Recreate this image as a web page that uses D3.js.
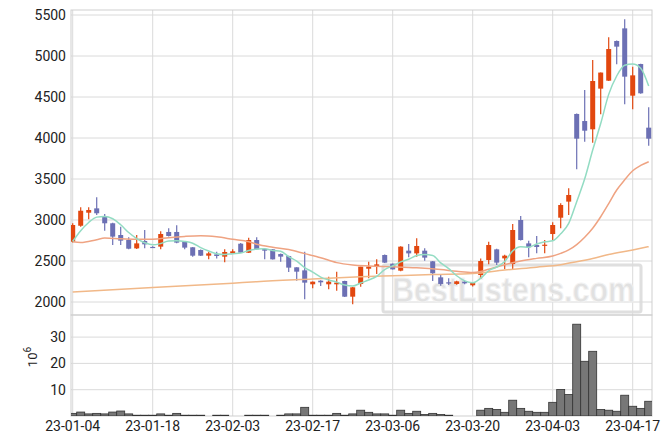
<!DOCTYPE html>
<html><head><meta charset="utf-8">
<script src="https://cdn.jsdelivr.net/npm/d3@7"></script>
<style>body{margin:0;background:#fff;} svg{display:block;font-family:Roboto,"Noto Sans",sans-serif;}</style>
</head><body><svg id="c" width="671" height="445"></svg>
<script>
const dates = ["01-04","01-05","01-06","01-09","01-10","01-11","01-12","01-13","01-16","01-17","01-18","01-19","01-20","01-25","01-26","01-27","01-30","01-31",
"02-01","02-02","02-03","02-06","02-07","02-08","02-09","02-10","02-13","02-14","02-15","02-16","02-17","02-20","02-21","02-22","02-23","02-24","02-27","02-28",
"03-02","03-03","03-06","03-07","03-08","03-09","03-10","03-13","03-14","03-15","03-16","03-17","03-20","03-21","03-22","03-23","03-24","03-27","03-28","03-29","03-30","03-31",
"04-03","04-04","04-05","04-06","04-07","04-10","04-11","04-12","04-13","04-14","04-17","04-18","04-19"].map(d => "23-" + d);
const openP  = [2735,2930,3089,3142,3049,2960,2817,2756,2654,2744,2672,2675,2854,2854,2732,2667,2634,2565,2581,2553,2593,2711,2601,2756,2646,2642,2585,2561,2423,2386,2216,2260,2216,2216,2256,2065,2220,2406,2427,2573,2467,2382,2626,2593,2626,2496,2301,2240,2220,2248,2204,2329,2512,2642,2532,2463,3000,2715,2695,2691,2829,3028,3224,4293,4207,4106,4602,4699,5183,5337,4516,4902,4126];
const highP  = [2960,3155,3155,3276,3073,2965,2918,2789,2817,2878,2680,2862,2898,2935,2740,2670,2640,2613,2613,2643,2643,2720,2785,2789,2650,2645,2590,2565,2425,2613,2250,2265,2309,2370,2260,2182,2431,2492,2520,2578,2470,2680,2707,2777,2654,2500,2341,2289,2260,2260,2245,2532,2736,2650,2575,2951,3049,2748,2805,2756,2972,3203,3386,4300,4585,4951,4800,5228,5190,5447,4870,4905,4375];
const lowP   = [2725,2918,3008,3061,2870,2695,2695,2643,2645,2654,2665,2643,2800,2715,2643,2553,2560,2520,2532,2484,2590,2598,2598,2640,2520,2518,2492,2366,2260,2033,2167,2195,2154,2138,2060,1972,2187,2289,2341,2475,2395,2375,2545,2553,2504,2256,2199,2207,2210,2215,2190,2280,2459,2451,2398,2402,2750,2545,2593,2593,2756,2898,3061,3618,3955,3943,4289,4695,4898,4411,4350,4540,3906];
const closeP = [2939,3113,3122,3082,2960,2797,2748,2650,2715,2703,2670,2829,2805,2724,2663,2565,2565,2593,2561,2610,2618,2601,2756,2642,2626,2520,2553,2419,2370,2236,2248,2240,2248,2236,2065,2179,2431,2431,2459,2480,2398,2675,2593,2683,2541,2350,2220,2236,2252,2228,2232,2500,2695,2480,2565,2878,2756,2667,2671,2699,2939,3183,3305,3992,4089,4695,4798,5085,5114,4748,4764,4545,3992];
const volume = [1.0,1.5,0.8,1.0,0.8,1.5,1.9,0.8,0.3,0.3,0.3,0.8,0.3,1.0,0.3,0.3,0.3,0.0,0.3,0.3,0.0,0.0,0.3,0.3,0.3,0.0,0.3,0.8,0.8,3.3,0.3,0.3,0.3,1.0,0.3,0.8,2.2,1.4,0.8,0.8,0.3,2.2,1.0,1.8,0.6,1.0,0.6,0.3,0.0,0.0,0.0,2.2,2.9,2.5,1.4,6.0,2.9,1.8,1.4,1.4,5.2,10.1,8.2,34.9,20.8,24.6,2.5,2.2,1.8,7.9,3.7,2.9,5.6];
const ma5 = [2740,2870,2970,3035,3043,3015,2942,2847,2774,2723,2697,2713,2744,2746,2738,2717,2664,2622,2589,2579,2589,2597,2629,2645,2649,2629,2619,2552,2498,2420,2365,2303,2268,2242,2207,2194,2232,2268,2313,2396,2440,2489,2521,2566,2578,2568,2477,2406,2320,2257,2234,2290,2381,2427,2494,2624,2675,2669,2707,2734,2746,2832,2959,3224,3502,3853,4176,4532,4756,4888,4902,4851,4633];
const ma20Idx = [0,1,3,4,6,8,10,12,14,16,18,20,22,23,25,27,29,31,33,35,37,40,43,46,48,50,51,52,54,56,58,60,61,62,63,64,65,66,67,68,69,70,71,72];
const ma20Val = [2735,2725,2760,2780,2770,2765,2765,2785,2800,2808,2795,2765,2735,2705,2668,2640,2590,2540,2480,2452,2440,2430,2417,2395,2375,2360,2372,2400,2455,2500,2532,2560,2593,2635,2700,2790,2900,3040,3200,3366,3490,3600,3665,3711];
const ma60Idx = [0,10,20,23,30,36,40,45,50,54,58,61,63,65,67,70,72];
const ma60Val = [2122,2176,2230,2248,2280,2307,2320,2335,2347,2390,2425,2455,2490,2530,2580,2635,2675];
const priceTicks = [2000,2500,3000,3500,4000,4500,5000,5500];
const volTicks = [10,20,30];
const dateTicks = ["23-01-04","23-01-18","23-02-03","23-02-17","23-03-06","23-03-20","23-04-03","23-04-17"];

const svg = d3.select("#c");
const L = 71, R = 652, PT = 10, PB = 315, VB = 416;
const x = d3.scaleLinear().domain([-0.2125, 72.4125]).range([L, R]);
const y = d3.scaleLinear().domain([2000, 5500]).range([302, 15]);
const vy = d3.scaleLinear().domain([0, 38.4]).range([VB, PB]);
const gridC = "#dadada";

const defs = svg.append("defs");
defs.append("clipPath").attr("id","cp").append("rect").attr("x",L).attr("y",PT).attr("width",R-L).attr("height",PB-PT);
defs.append("clipPath").attr("id","cv").append("rect").attr("x",L).attr("y",PB).attr("width",R-L).attr("height",VB-PB);

// grids
const tickIdx = dateTicks.map(d => dates.indexOf(d));
svg.append("g").selectAll("line").data(tickIdx).join("line")
  .attr("x1", d => x(d)).attr("x2", d => x(d)).attr("y1", PT).attr("y2", VB)
  .attr("stroke", gridC).attr("stroke-width", 1);
svg.append("g").selectAll("line").data(priceTicks).join("line")
  .attr("x1", L).attr("x2", R).attr("y1", d => y(d)).attr("y2", d => y(d))
  .attr("stroke", gridC);
svg.append("g").selectAll("line").data(volTicks).join("line")
  .attr("x1", L).attr("x2", R).attr("y1", d => vy(d)).attr("y2", d => vy(d))
  .attr("stroke", gridC);
svg.append("rect").attr("x",L).attr("y",PT).attr("width",R-L).attr("height",PB-PT).attr("fill","none").attr("stroke","#cfcfcf");
svg.append("rect").attr("x",L).attr("y",PB).attr("width",R-L).attr("height",VB-PB).attr("fill","none").attr("stroke","#cfcfcf");

// watermark
const wm = svg.append("g").attr("opacity", 0.9);
wm.append("rect").attr("x",383).attr("y",265).attr("width",258).attr("height",47).attr("rx",2)
  .attr("fill","none").attr("stroke","#dcdcdc").attr("stroke-width",3);
wm.append("text").attr("x",392).attr("y",302).text("BestListens.com")
  .attr("font-family","'Liberation Sans',Arial,sans-serif").attr("font-weight","bold").attr("font-size",35)
  .attr("textLength",243).attr("lengthAdjust","spacingAndGlyphs")
  .attr("fill","#dedede").attr("stroke","#f2f2f2").attr("stroke-width",1);

// candles
const up = "#e2470f", dn = "#6c70b4";
const idx = d3.range(closeP.length);
const cg = svg.append("g").attr("clip-path","url(#cp)");
cg.selectAll("line").data(idx).join("line")
  .attr("x1", i => x(i)).attr("x2", i => x(i))
  .attr("y1", i => y(highP[i])).attr("y2", i => y(lowP[i]))
  .attr("stroke", i => closeP[i] >= openP[i] ? up : dn).attr("stroke-width", 1.2);
cg.selectAll("rect").data(idx).join("rect")
  .attr("x", i => x(i) - 2.5).attr("width", 5)
  .attr("y", i => y(Math.max(openP[i], closeP[i])))
  .attr("height", i => Math.max(1.2, Math.abs(y(openP[i]) - y(closeP[i]))))
  .attr("fill", i => closeP[i] >= openP[i] ? up : dn);

// moving averages
const lg = svg.append("g").attr("clip-path","url(#cp)").attr("fill","none").attr("stroke-width",1.5);
const line = d3.line().x(d => x(d[0])).y(d => y(d[1])).curve(d3.curveMonotoneX);
lg.append("path").attr("d", line(ma60Idx.map((d,k) => [d, ma60Val[k]]))).attr("stroke","#f1b888");
lg.append("path").attr("d", line(ma20Idx.map((d,k) => [d, ma20Val[k]]))).attr("stroke","#efa382");
lg.append("path").attr("d", line(idx.map(i => [i, ma5[i]]))).attr("stroke","#93dcc3");

// volume
svg.append("g").attr("clip-path","url(#cv)").selectAll("rect").data(idx.filter(i => volume[i] > 0)).join("rect")
  .attr("x", i => x(i) - 4).attr("width", 8)
  .attr("y", i => vy(volume[i])).attr("height", i => VB - vy(volume[i]))
  .attr("fill", "#777").attr("stroke", "#333").attr("stroke-width", 0.8);

// labels
const tc = "#222";
svg.append("g").selectAll("text").data(priceTicks).join("text")
  .attr("x", 66).attr("y", d => y(d)).attr("dy","0.36em").attr("text-anchor","end")
  .attr("font-size",14).attr("fill",tc).text(d => d);
svg.append("g").selectAll("text").data(volTicks).join("text")
  .attr("x", 66).attr("y", d => vy(d)).attr("dy","0.36em").attr("text-anchor","end")
  .attr("font-size",14).attr("fill",tc).text(d => d);
svg.append("g").selectAll("text").data(dateTicks).join("text")
  .attr("x", d => x(dates.indexOf(d))).attr("y", 431).attr("text-anchor","middle")
  .attr("font-size",14).attr("fill",tc).text(d => d);
const vl = svg.append("text").attr("transform","translate(37,357) rotate(-90)").attr("text-anchor","middle")
  .attr("font-size",13).attr("fill",tc);
vl.append("tspan").text("10");
vl.append("tspan").attr("dy",-6).attr("font-size",10).text("6");
</script></body></html>
